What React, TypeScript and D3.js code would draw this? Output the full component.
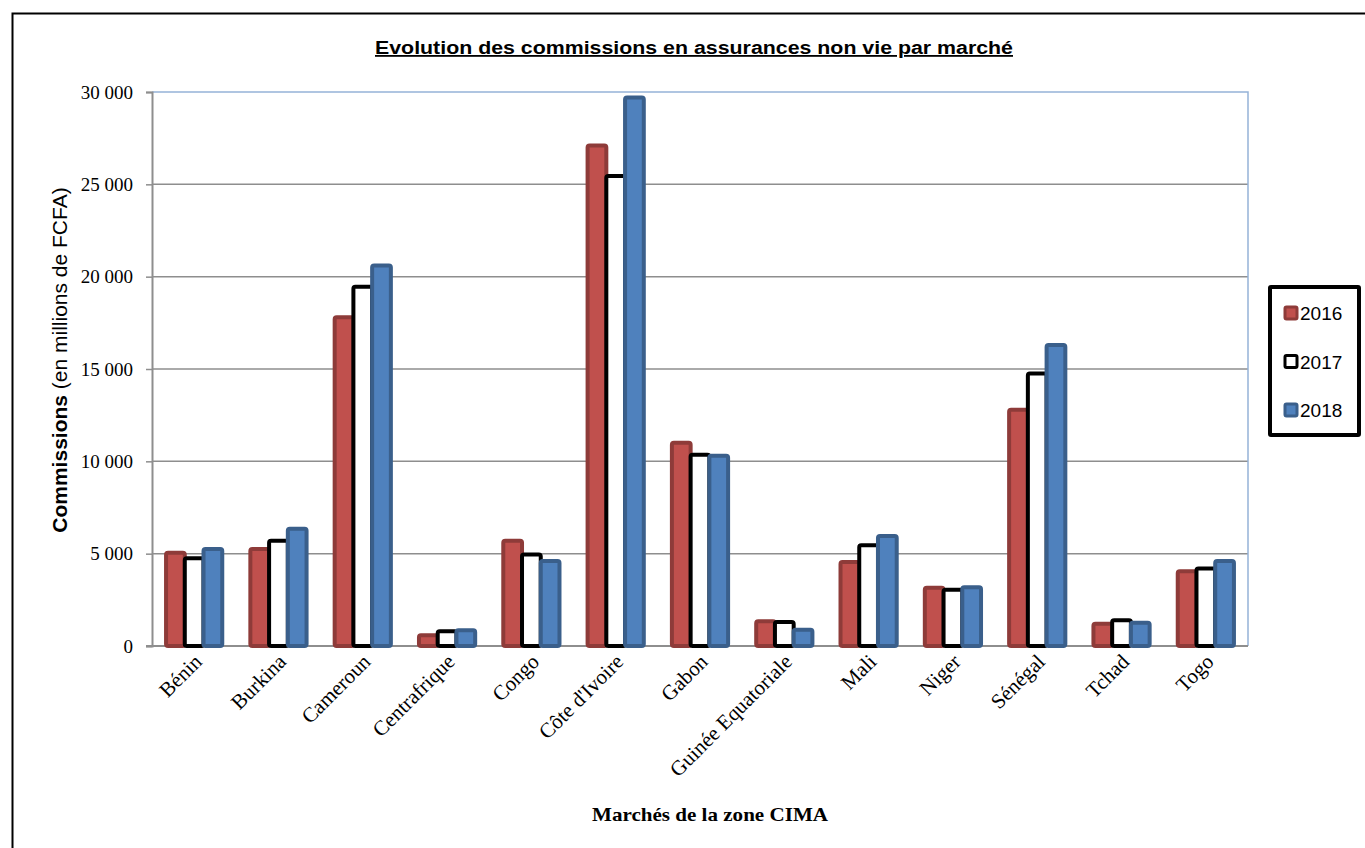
import * as d3 from "d3";
import { useEffect, useRef } from "react";

const categories = [
  "Bénin",
  "Burkina",
  "Cameroun",
  "Centrafrique",
  "Congo",
  "Côte d'Ivoire",
  "Gabon",
  "Guinée Equatoriale",
  "Mali",
  "Niger",
  "Sénégal",
  "Tchad",
  "Togo",
];
const years = ["2016", "2017", "2018"];
const values2016 = [5050, 5250, 17800, 580, 5700, 27100, 11000, 1340, 4550, 3150, 12800, 1200, 4050];
const values2017 = [4750, 5700, 19450, 800, 4950, 25450, 10350, 1300, 5450, 3050, 14750, 1390, 4200];
const values2018 = [5250, 6350, 20600, 850, 4600, 29700, 10300, 880, 5950, 3180, 16300, 1260, 4600];
const yTicks = [0, 5000, 10000, 15000, 20000, 25000, 30000];

const fills = ["#C0504D", "#FFFFFF", "#4F81BD"];
const strokes = ["#8E3B39", "#000000", "#3A5F8B"];

const App = () => {
  const svgRef = useRef<SVGSVGElement | null>(null);

  useEffect(() => {
    const W = 1365;
    const H = 848;
    const margin = { top: 92, right: 117, bottom: 202, left: 152 };
    const svg = d3.select(svgRef.current);
    svg.selectAll("*").remove();
    svg.attr("width", W).attr("height", H);

    svg.append("rect").attr("width", W).attr("height", H).attr("fill", "#fff");
    // outer frame (cropped on right and bottom)
    svg
      .append("rect")
      .attr("x", 12.5)
      .attr("y", 13.5)
      .attr("width", 1400)
      .attr("height", 900)
      .attr("fill", "none")
      .attr("stroke", "#000")
      .attr("stroke-width", 2);

    const x0 = d3
      .scaleBand<string>()
      .domain(categories)
      .range([margin.left, W - margin.right])
      .paddingInner(1 / 3)
      .paddingOuter(1 / 6);
    const x1 = d3.scaleBand<string>().domain(years).range([0, x0.bandwidth()]);
    const y = d3
      .scaleLinear()
      .domain([0, 30000])
      .range([H - margin.bottom, margin.top]);

    const fmt = d3.formatLocale({ thousands: " ", grouping: [3], decimal: ",", currency: ["", ""] }).format(",");

    // gridlines
    svg
      .append("g")
      .selectAll("line")
      .data(yTicks.filter((t) => t > 0 && t < 30000))
      .enter()
      .append("line")
      .attr("x1", margin.left)
      .attr("x2", W - margin.right)
      .attr("y1", (d) => y(d))
      .attr("y2", (d) => y(d))
      .attr("stroke", "#8E8E8E")
      .attr("stroke-width", 1.5);

    // plot border top/right
    svg
      .append("path")
      .attr("d", `M${margin.left},${y(30000)}H${W - margin.right}V${y(0)}`)
      .attr("fill", "none")
      .attr("stroke", "#95B3D7")
      .attr("stroke-width", 1.5);

    // y axis
    const gY = svg
      .append("g")
      .attr("transform", `translate(${margin.left},0)`)
      .call(d3.axisLeft(y).tickValues(yTicks).tickSize(6).tickPadding(13).tickFormat((d) => fmt(d as number)));
    gY.select(".domain").attr("stroke", "#8E8E8E").attr("stroke-width", 2);
    gY.selectAll(".tick line").attr("stroke", "#8E8E8E").attr("stroke-width", 1.5);
    gY.selectAll(".tick text")
      .attr("font-family", "'Liberation Serif', 'Times New Roman', serif")
      .attr("font-size", 19)
      .attr("fill", "#000");

    // x axis baseline
    svg
      .append("line")
      .attr("x1", margin.left - 6)
      .attr("x2", W - margin.right)
      .attr("y1", y(0))
      .attr("y2", y(0))
      .attr("stroke", "#8E8E8E")
      .attr("stroke-width", 2);

    // bars
    const series = [values2016, values2017, values2018];
    series.forEach((vals, si) => {
      svg
        .append("g")
        .selectAll("rect")
        .data(vals)
        .enter()
        .append("rect")
        .attr("x", (_, i) => (x0(categories[i]) as number) + (x1(years[si]) as number))
        .attr("y", (d) => y(d))
        .attr("width", x1.bandwidth())
        .attr("height", (d) => y(0) - y(d))
        .attr("rx", 2)
        .attr("fill", fills[si])
        .attr("stroke", strokes[si])
        .attr("stroke-width", 4);
    });

    // x labels
    svg
      .append("g")
      .selectAll("text")
      .data(categories)
      .enter()
      .append("text")
      .attr("transform", (d) => `translate(${(x0(d) as number) + x0.bandwidth() / 2 + 9},${y(0) + 17}) rotate(-45)`)
      .attr("text-anchor", "end")
      .attr("font-family", "'Liberation Serif', 'Times New Roman', serif")
      .attr("font-size", 21)
      .text((d) => d);

    // title
    svg
      .append("text")
      .attr("x", 694)
      .attr("y", 54)
      .attr("text-anchor", "middle")
      .attr("font-family", "'Liberation Sans', Arial, sans-serif")
      .attr("font-weight", "bold")
      .attr("font-size", 18)
      .attr("textLength", 638)
      .attr("lengthAdjust", "spacingAndGlyphs")
      .attr("text-decoration", "underline")
      .text("Evolution des commissions en assurances non vie par marché");

    // y title
    const yt = svg
      .append("text")
      .attr("transform", `translate(67,${(y(0) + y(30000)) / 2 - 9}) rotate(-90)`)
      .attr("text-anchor", "middle")
      .attr("font-family", "'Liberation Sans', Arial, sans-serif")
      .attr("font-size", 21);
    yt.append("tspan").attr("font-weight", "bold").text("Commissions");
    yt.append("tspan").text(" (en millions de FCFA)");

    // x title
    svg
      .append("text")
      .attr("x", 710)
      .attr("y", 821)
      .attr("text-anchor", "middle")
      .attr("font-family", "'Liberation Serif', 'Times New Roman', serif")
      .attr("font-weight", "bold")
      .attr("font-size", 19)
      .attr("textLength", 236)
      .attr("lengthAdjust", "spacingAndGlyphs")
      .text("Marchés de la zone CIMA");

    // legend
    const lg = svg.append("g");
    lg.append("rect")
      .attr("x", 1270)
      .attr("y", 287)
      .attr("width", 89)
      .attr("height", 148)
      .attr("fill", "#fff")
      .attr("stroke", "#000")
      .attr("stroke-width", 4)
      .attr("rx", 1);
    years.forEach((yr, i) => {
      const cy = 313 + i * 48.5;
      lg.append("rect")
        .attr("x", 1285)
        .attr("y", cy - 6)
        .attr("width", 12)
        .attr("height", 12)
        .attr("rx", 1.5)
        .attr("fill", fills[i])
        .attr("stroke", strokes[i])
        .attr("stroke-width", 3);
      lg.append("text")
        .attr("x", 1300)
        .attr("y", cy + 7)
        .attr("font-family", "'Liberation Sans', Arial, sans-serif")
        .attr("font-size", 19)
        .text(yr);
    });
  }, []);

  return (
    <>
      <style>{`body{margin:0}`}</style>
      <svg ref={svgRef} style={{ display: "block" }}></svg>
    </>
  );
};

export default App;
